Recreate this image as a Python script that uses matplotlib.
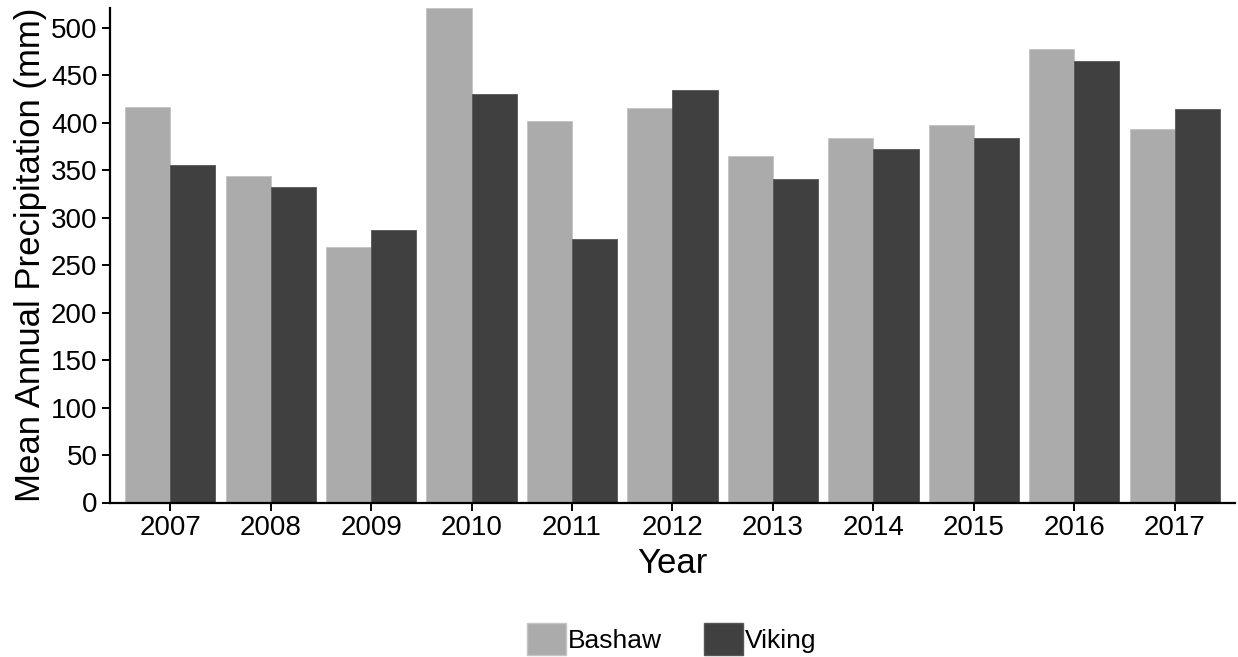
import matplotlib.pyplot as plt
import numpy as np
from matplotlib.patches import Patch

plt.rcParams['font.family'] = ['Liberation Sans', 'DejaVu Sans']

anos = ["2007", "2008", "2009", "2010", "2011", "2012", "2013", "2014", "2015", "2016", "2017"]
bashaw = [417, 344, 269, 521, 402, 416, 365, 384, 398, 478, 393]
viking = [356, 332, 287, 430, 278, 435, 341, 372, 384, 465, 415]

cor_bashaw = "#ababab"
cor_viking = "#404040"

fig = plt.figure(figsize=(12.38, 6.57), dpi=100)
ax = fig.add_axes([110 / 1238, 154.5 / 657, 1125 / 1238, 494.5 / 657])

x = np.arange(1, len(anos) + 1)
larg = 0.45
ax.bar(x - larg / 2, bashaw, width=larg, color=cor_bashaw, edgecolor="#c4c4c4", linewidth=0.6)
ax.bar(x + larg / 2, viking, width=larg, color=cor_viking, edgecolor="#555555", linewidth=0.6)

ax.set_xlim(0.4, len(anos) + 0.6)
ax.set_ylim(0, max(bashaw + viking))
ax.set_xticks(x)
ax.set_xticklabels(anos)
ax.set_yticks(np.arange(0, 501, 50))

for lado in ("top", "right"):
    ax.spines[lado].set_visible(False)
for lado in ("left", "bottom"):
    ax.spines[lado].set_linewidth(1.6)
ax.tick_params(axis="both", length=6, width=1.4, labelsize=20, colors="black", pad=3)

ax.set_xlabel("Year", fontsize=25, labelpad=4)
ax.set_ylabel("Mean Annual Precipitation (mm)", fontsize=25, labelpad=3)

# legenda centrada no painel
handles = [Patch(facecolor=cor_bashaw, edgecolor="#c4c4c4"),
           Patch(facecolor=cor_viking, edgecolor="#555555")]
fig.legend(handles, ["Bashaw", "Viking"], loc="center", bbox_to_anchor=(672 / 1238, 18 / 657),
           ncol=2, frameon=False, fontsize=19, handlelength=1.45, handleheight=1.45,
           handletextpad=0.1, columnspacing=1.6, borderpad=0)

fig.savefig("out.png", dpi=100)
